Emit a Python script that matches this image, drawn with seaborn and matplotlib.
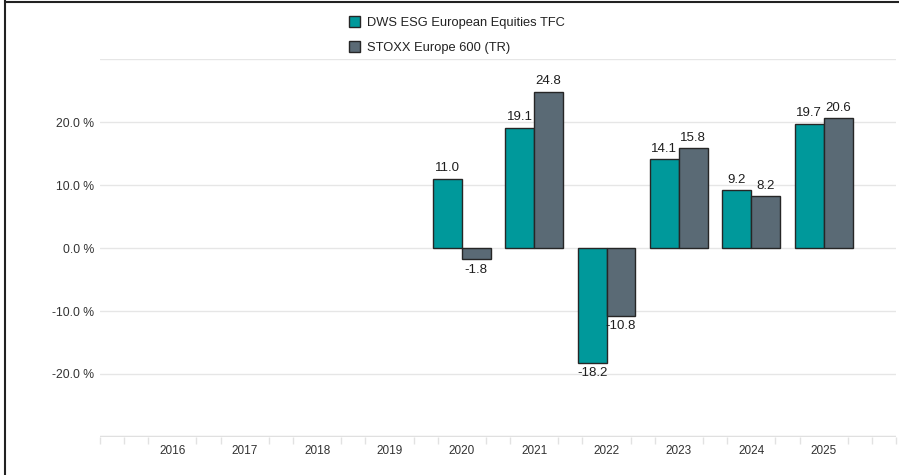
import numpy as np
import pandas as pd
import matplotlib
matplotlib.use('Agg')
import matplotlib.pyplot as plt
import seaborn as sns
from matplotlib.patches import Patch

# Data
years = ['2016', '2017', '2018', '2019', '2020', '2021', '2022', '2023', '2024', '2025']
fund = [np.nan, np.nan, np.nan, np.nan, 11.0, 19.1, -18.2, 14.1, 9.2, 19.7]
index = [np.nan, np.nan, np.nan, np.nan, -1.8, 24.8, -10.8, 15.8, 8.2, 20.6]
series_names = ['DWS ESG European Equities TFC', 'STOXX Europe 600 (TR)']
colors = ['#00999B', '#5A6A75']
y_ticks = [-20, -10, 0, 10, 20]

df = pd.DataFrame({
    'year': years * 2,
    'value': fund + index,
    'series': [series_names[0]] * len(years) + [series_names[1]] * len(years),
})

sns.set_style('white')
plt.rcParams['font.family'] = ['Liberation Sans', 'DejaVu Sans']

fig = plt.figure(figsize=(8.99, 4.75), dpi=100)
ax = fig.add_axes([100 / 899, 1 - 437 / 475, 796 / 899, 378 / 475])

sns.barplot(data=df, x='year', y='value', hue='series', order=years,
            hue_order=series_names, palette=colors, width=0.8,
            edgecolor='#262626', linewidth=1.0, saturation=1, ax=ax,
            legend=False, errorbar=None, zorder=3)

# value labels
for cont in ax.containers:
    for bar in cont:
        h = bar.get_height()
        if np.isnan(h):
            continue
        x = bar.get_x() + bar.get_width() / 2
        if h >= 0:
            ax.text(x, h + 0.7, f'{h:.1f}', ha='center', va='bottom',
                    fontsize=9.5, color='#1e1e1e')
        else:
            ax.text(x, h - 0.7, f'{h:.1f}', ha='center', va='top',
                    fontsize=9.5, color='#1e1e1e')

ax.set_xlim(-1, 10)
ax.set_ylim(-30, 30)
ax.set_yticks(y_ticks)
ax.set_yticklabels([f'{t:.1f} %' for t in y_ticks])
for g in [-30, -20, -10, 0, 10, 20, 30]:
    ax.axhline(g, color='#e6e6e6', linewidth=1.0, zorder=0)
ax.axhline(-30, color='#e0e0e0', linewidth=2.5, zorder=1)

# small ticks every third of a category, none under the labels
minor = [m for m in np.arange(-1, 10 + 0.01, 1 / 3) if abs(m - round(m)) > 0.01 or m < 0 or m > 9.5]
ax.set_xticks(minor, minor=True)
ax.tick_params(axis='x', which='minor', bottom=True, length=5, color='#e2e2e2', width=1, pad=2)
ax.tick_params(axis='x', which='major', bottom=True, length=0, labelsize=8.5,
               labelcolor='#333333', pad=6)
ax.tick_params(axis='y', length=0, labelsize=8.8, labelcolor='#333333', pad=4)
ax.set_xlabel('')
ax.set_ylabel('')
for s in ax.spines.values():
    s.set_visible(False)

handles = [Patch(facecolor=c, edgecolor='#262626', linewidth=1.0) for c in colors]
fig.legend(handles, series_names, loc='upper left', bbox_to_anchor=(0.375, 0.99),
           frameon=False, fontsize=9.3, handlelength=0.9, handleheight=0.9,
           handletextpad=0.5, labelspacing=0.9, labelcolor='#222222')

# outer frame lines (left and top)
fig.add_artist(plt.Line2D([4.5 / 899, 4.5 / 899], [0, 1], color='#222222', linewidth=1.5,
                          transform=fig.transFigure))
fig.add_artist(plt.Line2D([4.5 / 899, 1], [1 - 1.5 / 475, 1 - 1.5 / 475], color='#222222',
                          linewidth=1.5, transform=fig.transFigure))

fig.savefig('out.png', dpi=100)
